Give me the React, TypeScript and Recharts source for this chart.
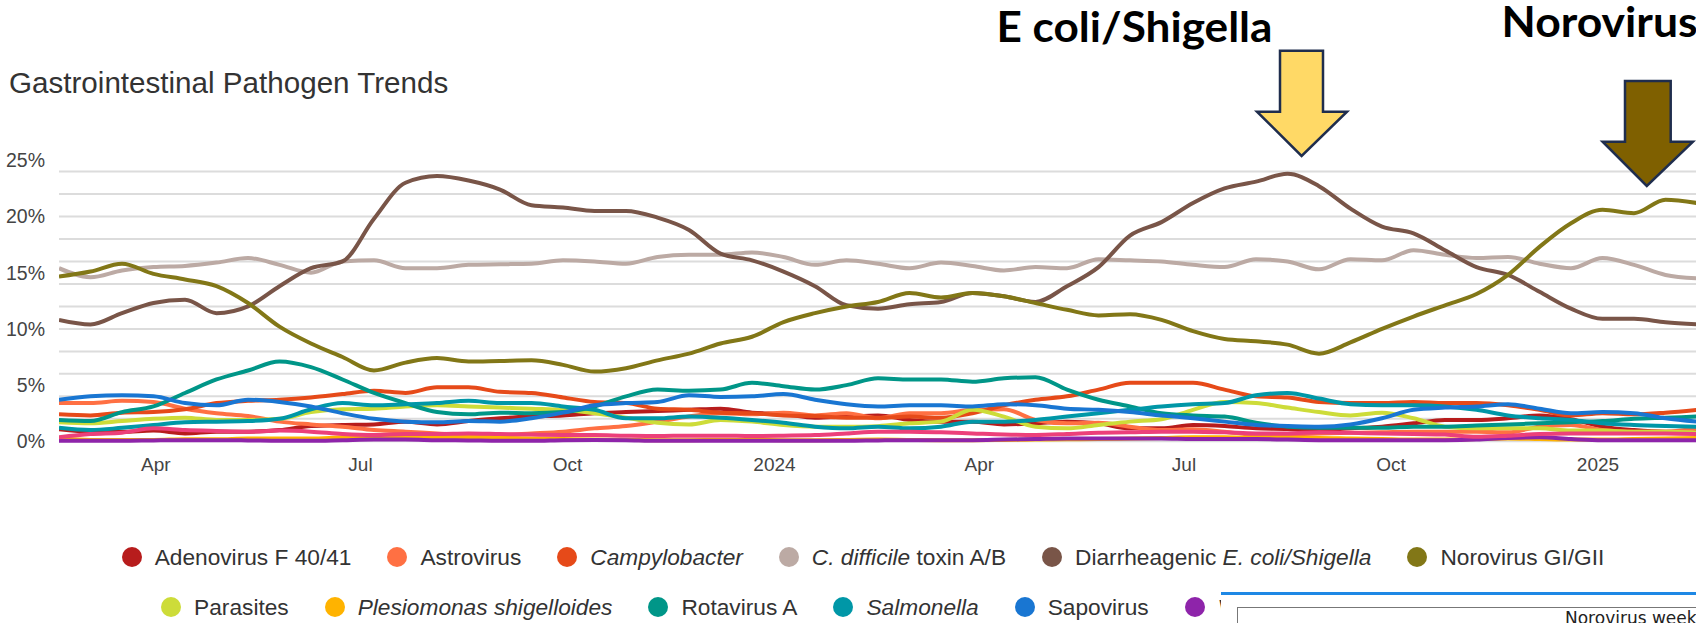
import { CartesianGrid, Line, LineChart, XAxis, YAxis } from 'recharts';

// two-week sample dates (Fri), Feb 2023 – Feb 2025
const dates = [
  '2023-02-17', '2023-03-03', '2023-03-17', '2023-03-31', '2023-04-14', '2023-04-28', '2023-05-12',
  '2023-05-26', '2023-06-09', '2023-06-23', '2023-07-07', '2023-07-21', '2023-08-04', '2023-08-18',
  '2023-09-01', '2023-09-15', '2023-09-29', '2023-10-13', '2023-10-27', '2023-11-10', '2023-11-24',
  '2023-12-08', '2023-12-22', '2024-01-05', '2024-01-19', '2024-02-02', '2024-02-16', '2024-03-01',
  '2024-03-15', '2024-03-29', '2024-04-12', '2024-04-26', '2024-05-10', '2024-05-24', '2024-06-07',
  '2024-06-21', '2024-07-05', '2024-07-19', '2024-08-02', '2024-08-16', '2024-08-30', '2024-09-13',
  '2024-09-27', '2024-10-11', '2024-10-25', '2024-11-08', '2024-11-22', '2024-12-06', '2024-12-20',
  '2025-01-03', '2025-01-17', '2025-01-31', '2025-02-14',
];

const tickDates = ['2023-04-01', '2023-07-01', '2023-10-01', '2024-01-01', '2024-04-01', '2024-07-01', '2024-10-01', '2025-01-01'];
const tickLabels = ['Apr', 'Jul', 'Oct', '2024', 'Apr', 'Jul', 'Oct', '2025'];
const yTicks = [0, 5, 10, 15, 20, 25];
const gridValues = [0, 2, 4, 6, 8, 10, 12, 14, 16, 18, 20, 22, 24];

// % positivity per pathogen
const adenovirus = [
  1.07, 0.86, 0.86, 0.95, 0.7, 0.86, 0.86, 1.0, 1.36, 1.45, 1.5, 1.75, 1.5, 1.8,
  2.05, 2.2, 2.3, 2.5, 2.6, 2.7, 2.8, 2.9, 2.55, 2.4, 2.1, 2.2, 2.3,
  1.9, 1.75, 1.75, 1.5, 1.6, 1.75, 1.6, 1.15, 1.15, 1.45, 1.36, 1.15, 1.1,
  1.0, 1.15, 1.3, 1.6, 1.9, 1.9, 2.05, 2.3, 1.96, 1.3, 1.0, 0.86, 0.86,
];
const astrovirus = [
  3.4, 3.4, 3.6, 3.5, 2.9, 2.5, 2.25, 1.75, 1.5, 1.3, 1.0, 0.86, 0.7, 0.56,
  0.56, 0.7, 0.86, 1.15, 1.36, 1.75, 2.2, 2.5, 2.4, 2.55, 2.3, 2.5, 2.05,
  2.5, 2.5, 2.8, 2.85, 1.9, 1.6, 1.66, 1.3, 1.0, 1.07, 0.86, 0.56, 0.6,
  0.7, 0.75, 0.8, 0.86, 0.86, 0.86, 0.8, 1.3, 1.45, 1.0, 0.86, 0.86, 1.15,
];
const campylobacter = [
  2.4, 2.3, 2.55, 2.6, 2.85, 3.4, 3.6, 3.7, 3.9, 4.2, 4.5, 4.3, 4.8, 4.8,
  4.4, 4.3, 3.9, 3.5, 3.4, 2.9, 2.8, 2.55, 2.5, 2.3, 2.25, 2.1, 2.1,
  2.2, 2.1, 2.5, 3.2, 3.7, 4.0, 4.6, 5.2, 5.2, 5.2, 4.6, 4.0, 3.9,
  3.5, 3.4, 3.4, 3.5, 3.4, 3.4, 3.2, 2.8, 2.3, 2.5, 2.4, 2.55, 2.8,
];
const cdiff = [
  15.4, 14.6, 15.2, 15.5, 15.6, 15.9, 16.3, 15.7, 15.0, 16.0, 16.1, 15.4, 15.4, 15.7,
  15.75, 15.8, 16.1, 16.0, 15.8, 16.4, 16.6, 16.6, 16.8, 16.4, 15.7, 16.1, 15.8,
  15.4, 15.9, 15.6, 15.2, 15.5, 15.4, 16.2, 16.1, 16.0, 15.7, 15.5, 16.2, 16.0,
  15.3, 16.2, 16.1, 17.0, 16.6, 16.3, 16.4, 15.8, 15.4, 16.3, 15.7, 14.8, 14.5,
];
const ecoli = [
  10.8, 10.4, 11.4, 12.3, 12.6, 11.4, 12.0, 13.8, 15.4, 16.0, 19.8, 23.0, 23.6, 23.2,
  22.4, 21.0, 20.8, 20.5, 20.5, 19.9, 18.8, 16.7, 16.1, 15.1, 13.8, 12.1, 11.8,
  12.2, 12.4, 13.2, 12.9, 12.4, 13.8, 15.5, 18.3, 19.5, 21.2, 22.5, 23.1, 23.8,
  22.7, 20.7, 19.1, 18.5, 17.0, 15.5, 14.8, 13.3, 11.8, 10.9, 10.9, 10.6, 10.4,
];
const norovirus = [
  14.65, 15.1, 15.8, 14.9, 14.4, 13.8, 12.3, 10.2, 8.7, 7.5, 6.3, 7.0, 7.4, 7.1,
  7.15, 7.2, 6.8, 6.2, 6.5, 7.2, 7.8, 8.7, 9.3, 10.6, 11.4, 12.0, 12.4,
  13.2, 12.8, 13.2, 12.9, 12.3, 11.7, 11.2, 11.3, 10.8, 9.8, 9.1, 8.9, 8.6,
  7.8, 8.8, 10.0, 11.1, 12.1, 13.1, 14.8, 17.3, 19.4, 20.6, 20.3, 21.5, 21.2,
];
const parasites = [
  1.7, 1.6, 1.8, 2.0, 2.1, 1.9, 1.9, 2.0, 2.6, 2.85, 2.9, 3.1, 3.2, 3.1,
  3.0, 2.9, 2.8, 2.5, 2.1, 1.65, 1.5, 1.9, 1.75, 1.45, 1.3, 1.3, 1.35,
  1.6, 1.75, 2.8, 2.2, 1.3, 1.15, 1.45, 1.75, 1.96, 2.8, 3.5, 3.4, 3.0,
  2.6, 2.3, 2.55, 2.05, 1.3, 1.15, 1.15, 1.15, 0.95, 0.95, 0.86, 0.86, 0.77,
];
const plesiomonas = [
  0.27, 0.12, 0.12, 0.12, 0.18, 0.18, 0.24, 0.24, 0.24, 0.36, 0.4, 0.4, 0.36, 0.36,
  0.3, 0.25, 0.2, 0.15, 0.12, 0.1, 0.1, 0.12, 0.12, 0.1, 0.1, 0.12, 0.15,
  0.12, 0.1, 0.1, 0.12, 0.15, 0.18, 0.2, 0.25, 0.3, 0.35, 0.35, 0.3, 0.3,
  0.3, 0.25, 0.2, 0.15, 0.15, 0.2, 0.25, 0.2, 0.15, 0.15, 0.2, 0.25, 0.3,
];
const rotavirus = [
  1.9, 1.8, 2.6, 3.1, 4.3, 5.5, 6.3, 7.1, 6.6, 5.5, 4.3, 3.4, 2.6, 2.4,
  2.55, 2.5, 2.6, 3.1, 4.0, 4.6, 4.5, 4.6, 5.2, 4.9, 4.6, 5.0, 5.6,
  5.5, 5.5, 5.3, 5.6, 5.7, 4.6, 3.7, 3.1, 2.5, 2.3, 2.2, 1.66, 1.3,
  1.2, 1.2, 1.2, 1.3, 1.3, 1.4, 1.5, 1.6, 1.7, 1.8, 2.0, 2.1, 2.2,
];
const salmonella = [
  1.2, 1.0, 1.2, 1.45, 1.7, 1.75, 1.8, 2.0, 2.85, 3.4, 3.2, 3.3, 3.4, 3.6,
  3.4, 3.4, 3.1, 2.8, 2.05, 2.05, 2.2, 2.1, 1.9, 1.65, 1.3, 1.15, 1.3,
  1.15, 1.3, 1.75, 1.75, 1.9, 2.2, 2.5, 2.8, 3.1, 3.3, 3.4, 4.1, 4.3,
  3.8, 3.3, 3.2, 3.2, 3.1, 2.8, 2.3, 2.05, 1.9, 1.6, 1.45, 1.36, 1.3,
];
const sapovirus = [
  3.7, 4.0, 4.1, 4.0, 3.4, 3.2, 3.7, 3.5, 3.1, 2.5, 2.0, 1.75, 1.7, 1.8,
  1.75, 2.05, 2.55, 3.2, 3.4, 3.5, 4.1, 3.95, 4.0, 4.2, 3.7, 3.3, 3.1,
  3.2, 3.2, 3.1, 3.3, 3.2, 2.9, 2.8, 2.6, 2.3, 2.05, 1.75, 1.45, 1.36,
  1.3, 1.5, 2.05, 2.8, 3.0, 3.1, 3.3, 2.9, 2.5, 2.6, 2.5, 2.05, 1.75,
];
const vibrio = [
  0.05, 0.05, 0.05, 0.08, 0.1, 0.1, 0.08, 0.05, 0.05, 0.1, 0.15, 0.15, 0.1, 0.08,
  0.05, 0.05, 0.1, 0.12, 0.1, 0.05, 0.05, 0.05, 0.05, 0.05, 0.05, 0.05, 0.08,
  0.1, 0.1, 0.1, 0.15, 0.2, 0.25, 0.25, 0.25, 0.25, 0.2, 0.2, 0.2, 0.15,
  0.1, 0.1, 0.1, 0.1, 0.1, 0.15, 0.3, 0.35, 0.2, 0.1, 0.1, 0.1, 0.1,
];
const yersinia = [
  0.36, 0.65, 0.77, 1.15, 1.0, 0.92, 0.86, 0.95, 0.86, 0.65, 0.56, 0.65, 0.65, 0.7,
  0.65, 0.6, 0.56, 0.55, 0.5, 0.47, 0.5, 0.5, 0.47, 0.5, 0.55, 0.7, 0.86,
  0.86, 0.8, 0.7, 0.6, 0.56, 0.65, 0.77, 0.8, 0.86, 0.86, 0.8, 0.7, 0.7,
  0.8, 0.75, 0.7, 0.65, 0.6, 0.4, 0.5, 0.65, 0.7, 0.7, 0.7, 0.7, 0.65,
];

// label parts: [text, italic]
const series = [
  { key: 'adeno', values: adenovirus, color: '#B71C1C', label: [['Adenovirus F 40/41', false]] },
  { key: 'astro', values: astrovirus, color: '#FF7043', label: [['Astrovirus', false]] },
  { key: 'campy', values: campylobacter, color: '#E64A19', label: [['Campylobacter', true]] },
  { key: 'cdiff', values: cdiff, color: '#BCAAA4', label: [['C. difficile', true], [' toxin A/B', false]] },
  { key: 'ecoli', values: ecoli, color: '#795548', label: [['Diarrheagenic ', false], ['E. coli/Shigella', true]] },
  { key: 'noro', values: norovirus, color: '#827717', label: [['Norovirus GI/GII', false]] },
  { key: 'para', values: parasites, color: '#CDDC39', label: [['Parasites', false]] },
  { key: 'plesio', values: plesiomonas, color: '#FFB300', label: [['Plesiomonas shigelloides', true]] },
  { key: 'rota', values: rotavirus, color: '#009688', label: [['Rotavirus A', false]] },
  { key: 'salm', values: salmonella, color: '#0097A7', label: [['Salmonella', true]] },
  { key: 'sapo', values: sapovirus, color: '#1976D2', label: [['Sapovirus', false]] },
  { key: 'vibrio', values: vibrio, color: '#8E24AA', label: [['Vibrio', true]] },
  { key: 'yers', values: yersinia, color: '#EC407A', label: [['Yersinia enterocolitica', true]] },
] as const;

const DAY = 86400000;
const ts = (d: string) => Date.parse(d + 'T00:00:00Z');
const t0 = ts(dates[0]);

const data = dates.map((d, i) => {
  const row: Record<string, number> = { t: ts(d) };
  series.forEach((s) => (row[s.key] = s.values[i]));
  return row;
});
const ticks = tickDates.map(ts);

const FONT = '"Liberation Sans", Arial, sans-serif';

function LegendRow({ items, top }: { items: typeof series[number][]; top: number }) {
  return (
    <div
      style={{
        position: 'absolute',
        left: 0,
        top,
        width: 1726,
        display: 'flex',
        justifyContent: 'center',
        gap: 36,
        fontFamily: FONT,
        fontSize: 22.7,
        color: '#333',
        lineHeight: '26px',
        whiteSpace: 'nowrap',
      }}
    >
      {items.map((s) => (
        <div key={s.key} style={{ display: 'flex', alignItems: 'center' }}>
          <span style={{ width: 20, height: 20, borderRadius: 10, background: s.color, marginRight: 13 }} />
          <span>
            {s.label.map(([txt, it], j) => (
              <span key={j} style={{ fontStyle: it ? 'italic' : 'normal' }}>
                {txt}
              </span>
            ))}
          </span>
        </div>
      ))}
    </div>
  );
}

export default function App() {
  return (
    <div
      style={{
        position: 'absolute',
        left: 0,
        top: 0,
        width: 1696,
        height: 623,
        overflow: 'hidden',
        background: '#fff',
      }}
    >
      <div
        style={{
          position: 'absolute',
          left: 9,
          top: 68,
          fontFamily: FONT,
          fontSize: 29.6,
          lineHeight: 1,
          color: '#333',
          whiteSpace: 'nowrap',
        }}
      >
        Gastrointestinal Pathogen Trends
      </div>

      <div style={{ position: 'absolute', left: 0, top: 0 }}>
        <LineChart width={1697} height={500} data={data} margin={{ top: 160.3, right: 0, bottom: 28.7, left: 0 }}>
          <CartesianGrid vertical={false} horizontalValues={gridValues} stroke="#dcdcdc" strokeWidth={2} />
          <XAxis
            dataKey="t"
            type="number"
            domain={[t0, t0 + 728 * DAY]}
            allowDataOverflow
            ticks={ticks}
            tickFormatter={(v: number) => tickLabels[ticks.indexOf(v)]}
            axisLine={false}
            tickLine={false}
            tickSize={0}
            tickMargin={16}
            height={30}
            interval={0}
            tick={{ fill: '#444', fontSize: 19, fontFamily: FONT }}
          />
          <YAxis
            type="number"
            domain={[0, 25]}
            ticks={yTicks}
            tickFormatter={(v: number) => `${v}%`}
            axisLine={false}
            tickLine={false}
            tickSize={0}
            tickMargin={14}
            width={59}
            interval={0}
            tick={{ fill: '#444', fontSize: 19.5, fontFamily: FONT }}
          />
          {series.map((s) => (
            <Line
              key={s.key}
              dataKey={s.key}
              type="monotone"
              stroke={s.color}
              strokeWidth={4}
              dot={false}
              activeDot={false}
              isAnimationActive={false}
            />
          ))}
        </LineChart>
      </div>

      <LegendRow items={series.slice(0, 6) as any} top={544} />
      <LegendRow items={series.slice(6) as any} top={594} />

      {/* pasted panel that covers the end of the legend */}
      <div
        style={{
          position: 'absolute',
          left: 1221,
          top: 592,
          width: 475,
          height: 31,
          background: '#fff',
          borderTop: '3px solid #1E88E5',
        }}
      >
        <div
          style={{
            position: 'absolute',
            left: 16,
            top: 12,
            width: 470,
            height: 40,
            border: '1px solid #777',
            fontFamily: '"DejaVu Sans", sans-serif',
            fontSize: 17,
            lineHeight: 1,
            color: '#222',
          }}
        >
          <span style={{ position: 'absolute', left: 327, top: 2, whiteSpace: 'nowrap' }}>Norovirus weekly</span>
        </div>
      </div>

      {/* annotations */}
      <svg width={1696} height={200} style={{ position: 'absolute', left: 0, top: 0 }}>
        <text
          x={996.5}
          y={41.7}
          fontFamily="Lato, 'Open Sans', sans-serif"
          fontWeight={700}
          fontSize={42}
          textLength={276}
          lengthAdjust="spacingAndGlyphs"
          fill="#000"
        >
          E coli/Shigella
        </text>
        <text
          x={1501.6}
          y={36.7}
          fontFamily="Lato, 'Open Sans', sans-serif"
          fontWeight={700}
          fontSize={42}
          textLength={196}
          lengthAdjust="spacingAndGlyphs"
          fill="#000"
        >
          Norovirus
        </text>
        <polygon
          points="1280,50.7 1323,50.7 1323,111.7 1347,111.7 1301.6,156 1257,111.7 1280,111.7"
          fill="#FFD966"
          stroke="#1F2D4D"
          strokeWidth={2.5}
          strokeLinejoin="miter"
        />
        <polygon
          points="1625,81 1670.7,81 1670.7,141.7 1693,141.7 1646.8,186 1602.6,141.7 1625,141.7"
          fill="#7F6000"
          stroke="#1F2D4D"
          strokeWidth={2.5}
          strokeLinejoin="miter"
        />
      </svg>
    </div>
  );
}
